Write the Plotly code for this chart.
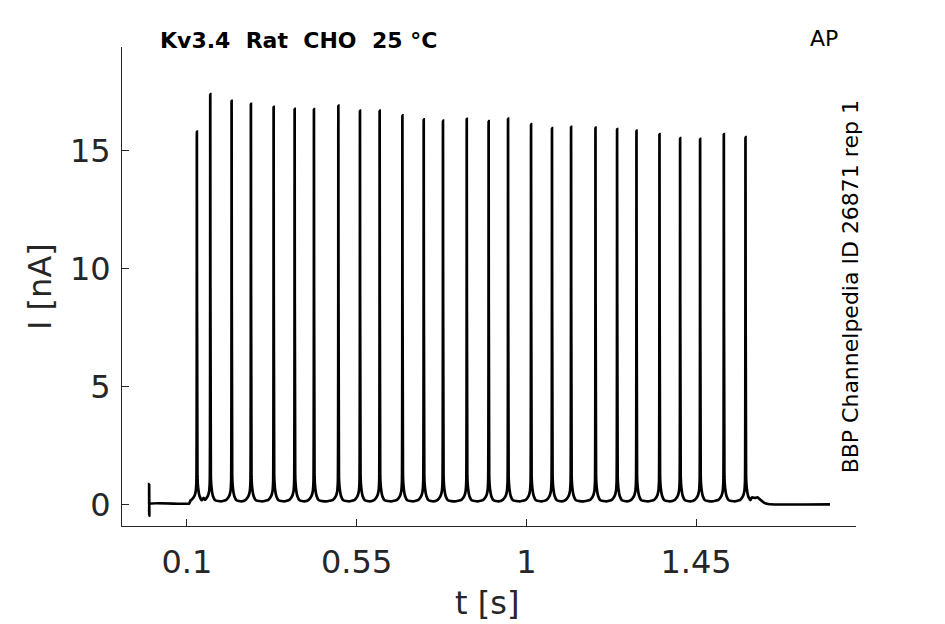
import plotly.graph_objects as go

# ==================================================
# Datos leídos del registro (AP clamp)
# ==================================================
# tiempo de cada pico [s] y su amplitud [nA]
spike_t = [0.1265, 0.162, 0.2186, 0.2698, 0.330, 0.3857, 0.4369, 0.5016, 0.5589,
           0.6111, 0.6714, 0.7279, 0.779, 0.842, 0.900, 0.9515, 1.0125, 1.068,
           1.1186, 1.1833, 1.2406, 1.292, 1.353, 1.4077, 1.4607, 1.5236, 1.581]
spike_peak = [15.82, 17.40, 17.12, 16.99, 16.86, 16.78, 16.77, 16.92, 16.71,
              16.71, 16.50, 16.34, 16.28, 16.36, 16.26, 16.37, 16.13, 15.96,
              16.02, 15.99, 15.92, 15.86, 15.71, 15.54, 15.51, 15.71, 15.58]

# forma de cada pico: desfase al máximo [s] y nivel [nA] (None = máximo)
shape_dt = [-0.014, -0.007, -0.003, -0.0012, 0.0, 0.0015, 0.0035, 0.007, 0.013]
shape_i = [0.22, 0.36, 0.58, 1.0, None, 1.2, 0.7, 0.38, 0.2]
trough_i = [0.3] + [0.15] * 25

# tramo antes de los pulsos (transitorio capacitivo en t=0)
pre_t = [0.0, 0.0, 0.0005, 0.0015, 0.106, 0.110]
pre_i = [0.05, 0.89, -0.45, 0.05, 0.06, 0.2]

# tramo después del último pulso
post_t = [1.598, 1.606, 1.613, 1.622, 1.632, 1.645, 1.805]
post_i = [0.32, 0.30, 0.32, 0.20, 0.08, 0.03, 0.03]

# --------------------------------------------------
# Armar la traza
# --------------------------------------------------
t = list(pre_t)
i = list(pre_i)
for k, (tp, pk) in enumerate(zip(spike_t, spike_peak)):
    for dt, lv in zip(shape_dt, shape_i):
        t.append(tp + dt)
        i.append(pk if lv is None else lv)
    if k < len(spike_t) - 1:
        t.append((tp + spike_t[k + 1]) / 2)
        i.append(trough_i[k])
t += post_t
i += post_i

# ==================================================
# Figura
# ==================================================
fig = go.Figure()
fig.add_trace(go.Scatter(
    x=t, y=i, mode="lines",
    line=dict(color="black", width=2.7, shape="spline", smoothing=0.4),
    showlegend=False
))

gris = "#262626"
fuente = "DejaVu Sans"

# la página tiene 8 px de margen, el lienzo se reduce en esa medida
fig.update_layout(
    width=937, height=616,
    margin=dict(l=114, r=89, t=39, b=98),
    plot_bgcolor="white", paper_bgcolor="white",
    font=dict(family=fuente, color=gris),
    xaxis=dict(
        range=[-0.072, 1.874],
        tickvals=[0.1, 0.55, 1, 1.45],
        ticktext=["0.1", "0.55", "1", "1.45"],
        ticks="inside", ticklen=7, tickcolor=gris,
        showline=True, linecolor=gris, linewidth=1,
        showgrid=False, zeroline=False, automargin=False,
        tickfont=dict(size=32, color=gris),
        ticklabelstandoff=8,
    ),
    yaxis=dict(
        range=[-0.89, 19.4],
        tickvals=[0, 5, 10, 15],
        ticks="inside", ticklen=7, tickcolor=gris,
        showline=True, linecolor=gris, linewidth=1,
        showgrid=False, zeroline=False, automargin=False,
        tickfont=dict(size=32, color=gris),
        ticklabelstandoff=4,
    ),
)

# títulos de ejes
fig.add_annotation(
    text="t [s]", xref="paper", yref="paper", x=0.497, y=-0.161,
    xanchor="center", yanchor="middle", showarrow=False,
    font=dict(size=32, color=gris, family=fuente)
)
fig.add_annotation(
    text="I [nA]", textangle=-90, xref="paper", yref="paper", x=-0.1117, y=0.499,
    xanchor="center", yanchor="middle", showarrow=False,
    font=dict(size=32, color=gris, family=fuente)
)

# títulos
fig.add_annotation(
    text="<b>Kv3.4\u00a0\u00a0Rat\u00a0\u00a0CHO\u00a0\u00a025\u00a0°C</b>",
    xref="paper", yref="paper", x=0.0489, y=1.0, yshift=-8,
    xanchor="left", yanchor="bottom", showarrow=False,
    font=dict(size=22, color="black", family=fuente)
)
fig.add_annotation(
    text="AP", xref="paper", yref="paper", x=0.978, y=1.0, yshift=-6,
    xanchor="right", yanchor="bottom", showarrow=False,
    font=dict(size=22, color="black", family=fuente)
)
fig.add_annotation(
    text="BBP Channelpedia ID 26871 rep 1", textangle=-90,
    xref="paper", yref="paper", x=0.993, y=0.5,
    xanchor="center", yanchor="middle", showarrow=False,
    font=dict(size=22, color="black", family=fuente)
)

fig.write_html("out.html")
